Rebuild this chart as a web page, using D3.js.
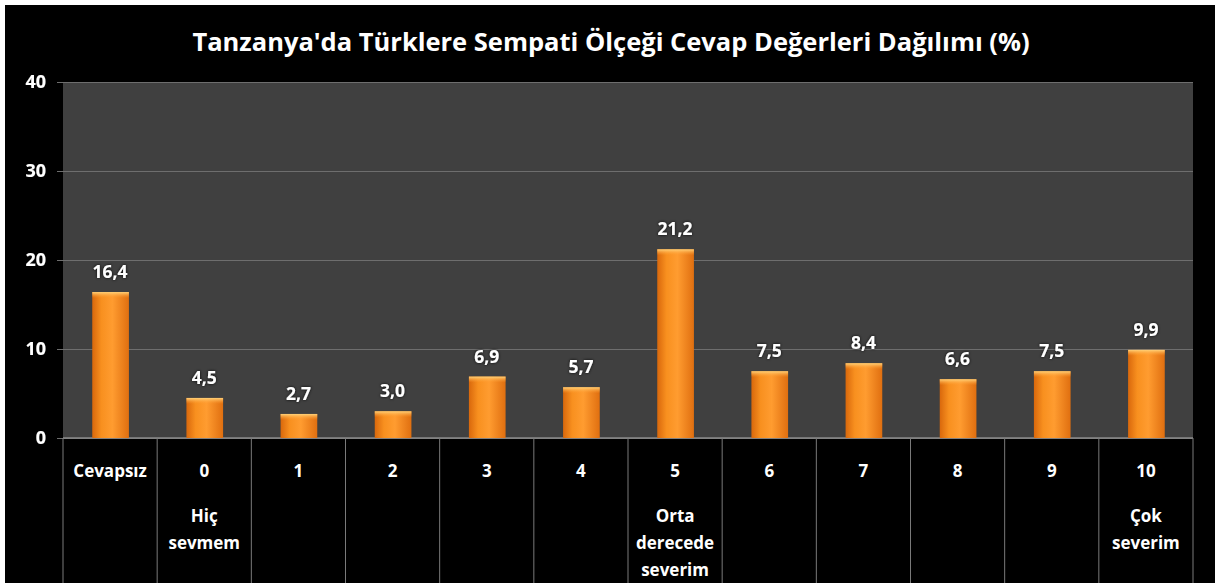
<!DOCTYPE html>
<html>
<head>
<meta charset="utf-8">
<script src="https://cdn.jsdelivr.net/npm/d3@7"></script>
<style>
  html, body { margin:0; padding:0; background:#fff; }
  svg { display:block; }
  text { font-family: "Open Sans", Lato, sans-serif; font-weight:bold; fill:#fff; }
</style>
</head>
<body>
<div id="chart"></div>
<script>
var title = "Tanzanya'da Türklere Sempati Ölçeği Cevap Değerleri Dağılımı (%)";
var categories = ['Cevapsız', '0', '1', '2', '3', '4', '5', '6', '7', '8', '9', '10'];
var subLabels = [[], ['Hiç', 'sevmem'], [], [], [], [], ['Orta', 'derecede', 'severim'], [], [], [], [], ['Çok', 'severim']];
var values = [16.4, 4.5, 2.7, 3.0, 6.9, 5.7, 21.2, 7.5, 8.4, 6.6, 7.5, 9.9];
var yTicks = [0, 10, 20, 30, 40];

var W = 1215, H = 583;
var plotL = 63, plotR = 1193, plotT = 82, plotB = 438;

var svg = d3.select('#chart').append('svg').attr('width', W).attr('height', H);

var defs = svg.append('defs');
var grad = defs.append('linearGradient').attr('id', 'barGrad').attr('x1', 0).attr('x2', 1).attr('y1', 0).attr('y2', 0);
grad.append('stop').attr('offset', '0%').attr('stop-color', '#d9680c');
grad.append('stop').attr('offset', '25%').attr('stop-color', '#f8901f');
grad.append('stop').attr('offset', '55%').attr('stop-color', '#ff9c30');
grad.append('stop').attr('offset', '100%').attr('stop-color', '#e06f10');
var topGrad = defs.append('linearGradient').attr('id', 'topGrad').attr('x1', 0).attr('x2', 0).attr('y1', 0).attr('y2', 1);
topGrad.append('stop').attr('offset', '0%').attr('stop-color', '#ffd27a').attr('stop-opacity', 1);
topGrad.append('stop').attr('offset', '100%').attr('stop-color', '#ff9c30').attr('stop-opacity', 0);

var glow = defs.append('filter').attr('id', 'glow').attr('x', '-20%').attr('y', '-30%').attr('width', '140%').attr('height', '160%');
glow.append('feDropShadow').attr('dx', 0).attr('dy', 0).attr('stdDeviation', 1.6).attr('flood-color', '#000').attr('flood-opacity', 0.9);

// white frame strips + black background
svg.append('rect').attr('x', 0).attr('y', 0).attr('width', W).attr('height', H).attr('fill', '#fff');
svg.append('rect').attr('x', 5).attr('y', 5).attr('width', W - 5).attr('height', H - 5).attr('fill', '#000');

var x = d3.scaleBand().domain(categories).range([plotL, plotR]).paddingInner(0.6).paddingOuter(0.3);
var y = d3.scaleLinear().domain([0, 40]).range([plotB, plotT]);
var step = x.step();

// plot area
svg.append('rect').attr('x', plotL).attr('y', plotT).attr('width', plotR - plotL).attr('height', plotB - plotT).attr('fill', '#404040');

// gridlines and ticks
var ya = svg.append('g').attr('transform', 'translate(' + plotR + ',0)');
ya.call(d3.axisLeft(y).tickValues(yTicks).tickSize(plotR - plotL + 6).tickFormat(''));
ya.select('.domain').remove();
ya.selectAll('.tick line').attr('stroke', '#6e6e6e').attr('stroke-width', 1.2);

svg.append('g').selectAll('text').data(yTicks).enter().append('text')
  .attr('x', 46).attr('y', function(d) { return y(d) + 6; })
  .attr('text-anchor', 'end').attr('font-size', 18).attr('filter', 'url(#glow)')
  .text(function(d) { return d; });

// x axis line
svg.append('line').attr('x1', plotL).attr('x2', plotR).attr('y1', plotB).attr('y2', plotB).attr('stroke', '#8a8a8a').attr('stroke-width', 1.5);

// category separators
var seps = d3.range(categories.length + 1).map(function(i) { return plotL + i * step; });
svg.selectAll('line.sep').data(seps).enter().append('line').attr('class', 'sep')
  .attr('x1', function(d) { return d; }).attr('x2', function(d) { return d; })
  .attr('y1', plotB).attr('y2', H).attr('stroke', '#7a7a7a').attr('stroke-width', 1);

// bars
var bars = svg.selectAll('g.bar').data(values).enter().append('g').attr('class', 'bar');
bars.append('rect')
  .attr('x', function(d, i) { return x(categories[i]) + 1; })
  .attr('y', function(d) { return y(d); })
  .attr('width', x.bandwidth() - 1)
  .attr('height', function(d) { return plotB - y(d); })
  .attr('fill', 'url(#barGrad)');
bars.append('rect')
  .attr('x', function(d, i) { return x(categories[i]) + 1; })
  .attr('y', function(d) { return y(d); })
  .attr('width', x.bandwidth() - 1)
  .attr('height', 6)
  .attr('fill', 'url(#topGrad)');

// value labels
svg.selectAll('text.val').data(values).enter().append('text').attr('class', 'val')
  .attr('x', function(d, i) { return x(categories[i]) + x.bandwidth() / 2; })
  .attr('y', function(d) { return y(d) - 14; })
  .attr('text-anchor', 'middle').attr('font-size', 17.5).attr('filter', 'url(#glow)')
  .text(function(d) { return d.toFixed(1).replace('.', ','); });

// category labels
var cl = svg.selectAll('g.cat').data(categories).enter().append('g').attr('class', 'cat');
cl.append('text')
  .attr('x', function(d) { return x(d) + x.bandwidth() / 2; })
  .attr('y', 477).attr('text-anchor', 'middle').attr('font-size', 17)
  .text(function(d) { return d; });
cl.each(function(d, i) {
  d3.select(this).selectAll('text.sub').data(subLabels[i]).enter().append('text').attr('class', 'sub')
    .attr('x', x(d) + x.bandwidth() / 2)
    .attr('y', function(s, j) { return 522 + j * 27; })
    .attr('text-anchor', 'middle').attr('font-size', 17)
    .text(function(s) { return s; });
});

// title
svg.append('text').attr('x', 611).attr('y', 51).attr('text-anchor', 'middle')
  .attr('font-size', 25.5).attr('font-weight', 600)
  .text(title);
</script>
</body>
</html>
